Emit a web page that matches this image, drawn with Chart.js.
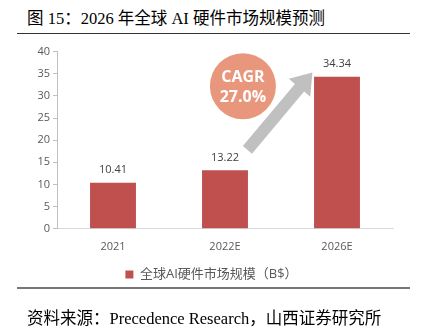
<!DOCTYPE html>
<html>
<head>
<meta charset="utf-8">
<script src="https://cdn.jsdelivr.net/npm/chart.js@4.4.1/dist/chart.umd.min.js"></script>
<style>
  body { margin: 0; background: #fff; width: 421px; height: 334px; position: relative; overflow: hidden; }
  .title { position: absolute; left: 27px; top: 5px; font: 16.5px "Liberation Serif", "Noto Sans CJK SC", serif; color: #000; white-space: nowrap; }
  .rule1 { position: absolute; left: 17px; width: 393px; top: 33px; height: 1px; background: #333; }
  .rule2 { position: absolute; left: 17px; width: 393px; top: 287px; height: 2px; background: #777; }
  .source { position: absolute; left: 27px; top: 305px; font: 16.5px "Liberation Serif", "Noto Sans CJK SC", serif; color: #000; white-space: nowrap; }
  #wrap { position: absolute; left: 0; top: 42px; width: 421px; height: 250px; }
</style>
</head>
<body>
<div class="title">图 15：2026 年全球 AI 硬件市场规模预测</div>
<div class="rule1"></div>
<div id="wrap"><canvas id="myChart"></canvas></div>
<div class="rule2"></div>
<div class="source">资料来源：Precedence Research，山西证券研究所</div>
<script>
const years = ['2021', '2022E', '2026E'];
const marketSize = [10.41, 13.22, 34.34];
const seriesName = '全球AI硬件市场规模（B$）';
const yTicks = [0, 5, 10, 15, 20, 25, 30, 35, 40];
const cagrText = ['CAGR', '27.0%'];

const labelFont = '"Open Sans", "Noto Sans CJK SC", sans-serif';

// values above the bars
const valueLabels = {
    id: 'valueLabels',
    afterDatasetsDraw(chart) {
        const ctx = chart.ctx;
        const meta = chart.getDatasetMeta(0);
        ctx.save();
        ctx.font = '11px ' + labelFont;
        ctx.fillStyle = '#404040';
        ctx.textAlign = 'center';
        ctx.textBaseline = 'bottom';
        meta.data.forEach((bar, i) => {
            ctx.fillText(marketSize[i].toFixed(2), bar.x, bar.y - 7);
        });
        ctx.restore();
    }
};

// grey arrow + CAGR bubble, placed with the scales
const cagrMark = {
    id: 'cagrMark',
    afterDatasetsDraw(chart) {
        const ctx = chart.ctx;
        const xs = chart.scales.x, ys = chart.scales.y;
        const step = xs.getPixelForValue(1) - xs.getPixelForValue(0);
        const x0 = xs.getPixelForValue(1) + step * 0.2, y0 = ys.getPixelForValue(17.8);
        const x1 = xs.getPixelForValue(2) - step * 0.22, y1 = ys.getPixelForValue(35.3);
        const ang = Math.atan2(y1 - y0, x1 - x0);
        const len = Math.hypot(x1 - x0, y1 - y0);
        ctx.save();
        ctx.translate(x0, y0);
        ctx.rotate(ang);
        ctx.fillStyle = '#c0c0c0';
        const hw = 6, hh = 14, hl = 20;
        ctx.beginPath();
        ctx.moveTo(0, -hw);
        ctx.lineTo(len - hl, -hw);
        ctx.lineTo(len - hl, -hh);
        ctx.lineTo(len, 0);
        ctx.lineTo(len - hl, hh);
        ctx.lineTo(len - hl, hw);
        ctx.lineTo(0, hw);
        ctx.closePath();
        ctx.fill();
        ctx.restore();

        const cx = xs.getPixelForValue(1) + step * 0.16, cy = ys.getPixelForValue(32.2);
        ctx.save();
        ctx.fillStyle = '#e8977c';
        ctx.beginPath();
        ctx.arc(cx, cy, 33, 0, Math.PI * 2);
        ctx.fill();
        ctx.fillStyle = '#fff';
        ctx.font = 'bold 16px ' + labelFont;
        ctx.textAlign = 'center';
        ctx.textBaseline = 'middle';
        ctx.fillText(cagrText[0], cx, cy - 9);
        ctx.fillText(cagrText[1], cx, cy + 11);
        ctx.restore();
    }
};

var ctx = document.getElementById('myChart').getContext('2d');
const chart = new Chart(ctx, {
    type: 'bar',
    data: {
        labels: years,
        datasets: [{
            label: seriesName,
            data: marketSize,
            backgroundColor: '#c0504d',
            borderWidth: 0,
            categoryPercentage: 1,
            barPercentage: 0.41
        }]
    },
    options: {
        responsive: true,
        maintainAspectRatio: false,
        animation: false,
        layout: { padding: { left: 30, right: 28, top: 2, bottom: 1 } },
        scales: {
            x: {
                grid: { display: false },
                border: { display: true, color: '#d9d9d9' },
                ticks: { color: '#595959', font: { family: labelFont, size: 11 }, padding: 3 }
            },
            y: {
                min: 0,
                max: 40,
                afterBuildTicks: scale => { scale.ticks = yTicks.map(v => ({ value: v })); },
                afterFit: scale => { scale.width = 27; },
                grid: { display: true, drawOnChartArea: false, drawTicks: true, tickLength: 4, color: '#bfbfbf' },
                border: { display: true, color: '#bfbfbf' },
                ticks: { color: '#595959', font: { family: labelFont, size: 11 }, padding: 3 }
            }
        },
        plugins: {
            legend: {
                position: 'bottom',
                labels: {
                    color: '#595959',
                    font: { family: labelFont, size: 13 },
                    boxWidth: 8,
                    boxHeight: 8,
                    padding: 12
                }
            },
            tooltip: { enabled: false }
        }
    },
    plugins: [valueLabels, cagrMark]
});
</script>
</body>
</html>
